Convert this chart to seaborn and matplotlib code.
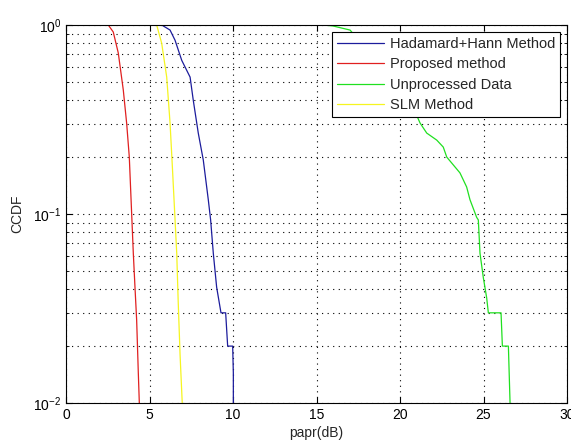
import matplotlib
matplotlib.use("Agg")
import matplotlib.pyplot as plt
import numpy as np
import pandas as pd
import seaborn as sns
from matplotlib.ticker import LogLocator, NullFormatter, MultipleLocator

# CCDF curves (papr in dB, probability)
hadamard_x = [5.73, 6.23, 6.53, 6.93, 7.43, 7.62, 7.92, 8.22, 8.52, 8.66, 8.82, 9.02,
              9.28, 9.56, 9.68, 9.98, 10.02, 10.02]
hadamard_p = [1.0, 0.94, 0.83, 0.65, 0.53, 0.40, 0.268, 0.193, 0.119, 0.093, 0.062, 0.041,
              0.030, 0.030, 0.020, 0.020, 0.0144, 0.01]

proposed_x = [2.53, 2.83, 3.13, 3.43, 3.63, 3.79, 3.93, 4.03, 4.13, 4.23, 4.33, 4.39]
proposed_p = [1.0, 0.918, 0.711, 0.453, 0.303, 0.200, 0.101, 0.062, 0.041, 0.0275, 0.0144, 0.01]

unprocessed_x = [15.41, 15.99, 17.01, 18.0, 19.58, 20.6, 21.2, 21.6, 22.2, 22.59, 22.8,
                 23.59, 23.99, 24.19, 24.59, 24.69, 24.79, 24.99, 25.19, 25.29, 26.05,
                 26.13, 26.49, 26.59]
unprocessed_p = [1.0, 0.988, 0.94, 0.74, 0.53, 0.40, 0.303, 0.268, 0.246, 0.226, 0.200,
                 0.165, 0.139, 0.119, 0.096, 0.093, 0.062, 0.046, 0.036, 0.030, 0.030,
                 0.020, 0.020, 0.01]

slm_x = [5.43, 5.73, 6.03, 6.23, 6.37, 6.53, 6.63, 6.72, 6.83, 6.96]
slm_p = [1.0, 0.80, 0.53, 0.303, 0.177, 0.093, 0.062, 0.034, 0.018, 0.01]

labels = ["Hadamard+Hann Method", "Proposed method", "Unprocessed Data", "SLM Method"]
colors = ["#1c1c9c", "#e02020", "#20e020", "#f5f520"]

series = [(hadamard_x, hadamard_p), (proposed_x, proposed_p),
          (unprocessed_x, unprocessed_p), (slm_x, slm_p)]
frames = []
for name, (xs, ps) in zip(labels, series):
    frames.append(pd.DataFrame({"papr": xs, "ccdf": ps, "method": name}))
df = pd.concat(frames, ignore_index=True)

sns.set_style("ticks")
plt.rcParams["font.family"] = ["Liberation Sans", "DejaVu Sans"]
plt.rcParams["mathtext.fontset"] = "custom"
plt.rcParams["mathtext.rm"] = "Liberation Sans"
plt.rcParams["mathtext.it"] = "Liberation Sans"

fig = plt.figure(figsize=(5.71, 4.43), dpi=100)
ax = fig.add_axes([0.1156, 0.0903, 0.8774, 0.8533])

sns.lineplot(data=df, x="papr", y="ccdf", hue="method", hue_order=labels,
             palette=dict(zip(labels, colors)), sort=False, estimator=None,
             units="method", linewidth=0.9, ax=ax)

ax.set_yscale("log")
ax.set_xlim(0, 30)
ax.set_ylim(0.01, 1)
ax.xaxis.set_major_locator(MultipleLocator(5))
ax.yaxis.set_major_locator(LogLocator(base=10))
ax.yaxis.set_minor_locator(LogLocator(base=10, subs=np.arange(2, 10)))
ax.yaxis.set_minor_formatter(NullFormatter())

dots = (0, (1, 4))
ax.grid(True, which="major", linestyle=dots, color="black", linewidth=0.8)
ax.yaxis.grid(True, which="minor", linestyle=dots, color="black", linewidth=0.8)

ax.tick_params(which="both", direction="in", top=True, right=True, labelsize=10,
               colors="black")
ax.tick_params(which="major", length=4)
ax.tick_params(which="minor", length=2.5)
for sp in ax.spines.values():
    sp.set_visible(True)
    sp.set_color("black")
    sp.set_linewidth(0.8)

ax.set_xlabel("papr(dB)", fontsize=10, labelpad=3)
ax.set_ylabel("CCDF", fontsize=10, labelpad=6)

leg = ax.legend(loc="upper right", fontsize=10.5, frameon=True, fancybox=False,
                edgecolor="black", framealpha=1, borderpad=0.35, labelspacing=0.45,
                handlelength=3.2, handletextpad=0.4, borderaxespad=0.45)
leg.get_frame().set_linewidth(0.8)

fig.savefig("out.png", dpi=100)
